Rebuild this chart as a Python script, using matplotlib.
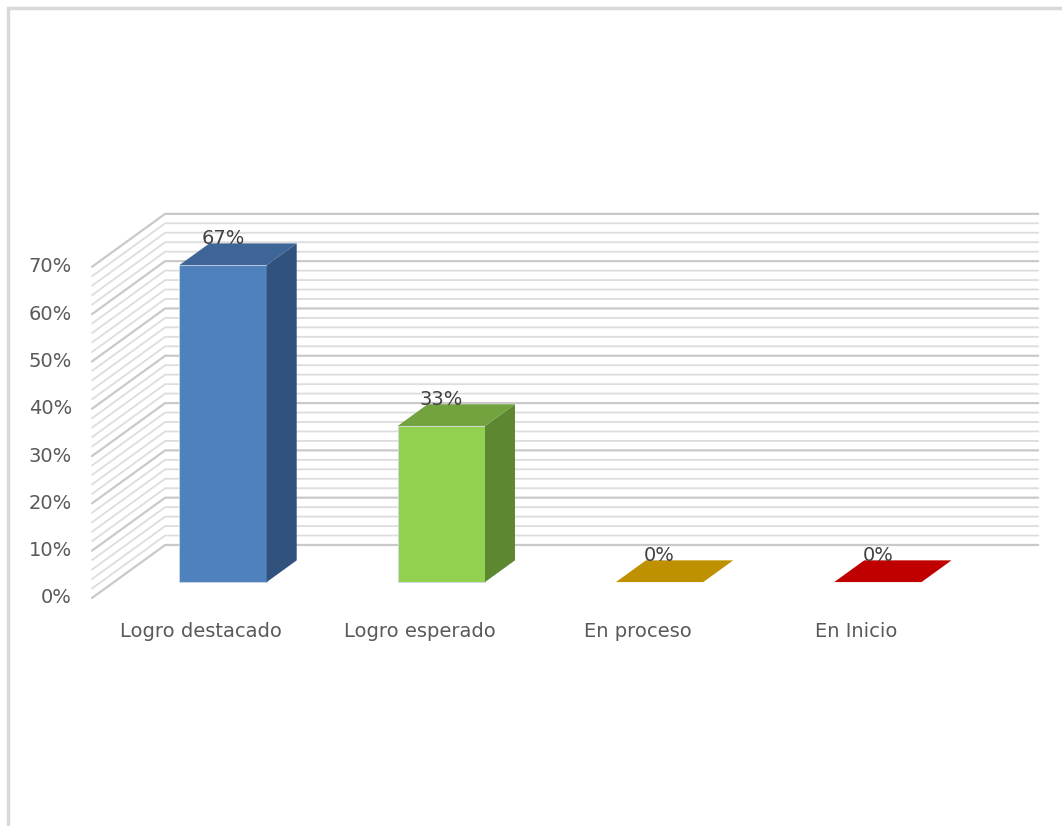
import matplotlib
matplotlib.use("Agg")
import matplotlib.pyplot as plt
from matplotlib.patches import Polygon, Rectangle

# data
categories = ["Logro destacado", "Logro esperado", "En proceso", "En Inicio"]
values = [67, 33, 0, 0]
y_ticks = [0, 10, 20, 30, 40, 50, 60, 70]
front_colors = ["#4F81BD", "#92D050", "#BF9000", "#C00000"]
top_colors = ["#3D6597", "#72A33F", "#BF9000", "#C00000"]
side_colors = ["#32527E", "#5E8731", "#9A7400", "#9A0000"]

# oblique "3d" projection in data units
DX = 0.335     # x shift for full depth (category units)
DY = 11.2      # y shift for full depth (percent units)
Z0, Z1 = 0.30, 0.71   # depth of bars
BAR_W = 0.40


def proj(x, y, z):
    return (x + z * DX, y + z * DY)


def draw_chart():
    fig = plt.figure(figsize=(10.62, 8.26), dpi=100)
    ax = fig.add_axes([0, 0, 1, 1])
    ax.set_xlim(-0.4215, 4.444)
    ax.set_ylim(-48.2, 126.4)
    ax.axis("off")

    # outer chart border (only top and left visible)
    fig.patches.append(Rectangle((8 / 1062, -0.1), 1.2, 1 - 8 / 826 + 0.1,
                                 transform=fig.transFigure, fill=False,
                                 edgecolor="#D9D9D9", linewidth=2.5))

    # wall gridlines every 2 %, a bit darker every 10 %
    n_cat = len(categories)
    for v in range(0, 71, 2):
        major = v % 10 == 0
        col = "#C9C9C9" if major else "#DDDDDD"
        lw = 1.6 if major else 1.3
        x0, y0 = proj(0, v, 0)
        x1, y1 = proj(0, v, 1)
        x2, y2 = proj(n_cat, v, 1)
        ax.plot([x0, x1, x2], [y0, y1, y2], color=col, lw=lw,
                solid_capstyle="round", zorder=1)

    # bars
    for i, v in enumerate(values):
        xl = i + 0.5 - BAR_W / 2
        xr = i + 0.5 + BAR_W / 2
        front = [proj(xl, 0, Z0), proj(xr, 0, Z0), proj(xr, v, Z0), proj(xl, v, Z0)]
        side = [proj(xr, 0, Z0), proj(xr, 0, Z1), proj(xr, v, Z1), proj(xr, v, Z0)]
        top = [proj(xl, v, Z0), proj(xr, v, Z0), proj(xr, v, Z1), proj(xl, v, Z1)]
        if v > 0:
            ax.add_patch(Polygon(front, closed=True, facecolor=front_colors[i],
                                 edgecolor="#D0D8E4", lw=0.6, zorder=3))
            ax.add_patch(Polygon(side, closed=True, facecolor=side_colors[i],
                                 edgecolor="none", zorder=3))
        ax.add_patch(Polygon(top, closed=True, facecolor=top_colors[i],
                             edgecolor="none", zorder=3))
        tx, _ = proj(i + 0.5, v, Z0)
        _, ty = proj(i + 0.5, v, Z1)
        ax.text(tx, ty + 1.0, f"{v}%", ha="center", va="center",
                fontsize=14, color="#404040", zorder=5)

    # category labels
    for i, name in enumerate(categories):
        ax.text(i + 0.5, -7.0, name, ha="center", va="center",
                fontsize=14, color="#595959")

    # value axis labels
    for t in y_ticks:
        ax.text(-0.092, t, f"{t}%", ha="right", va="center",
                fontsize=14, color="#595959")

    fig.savefig("out.png", dpi=100)


if __name__ == "__main__":
    draw_chart()
